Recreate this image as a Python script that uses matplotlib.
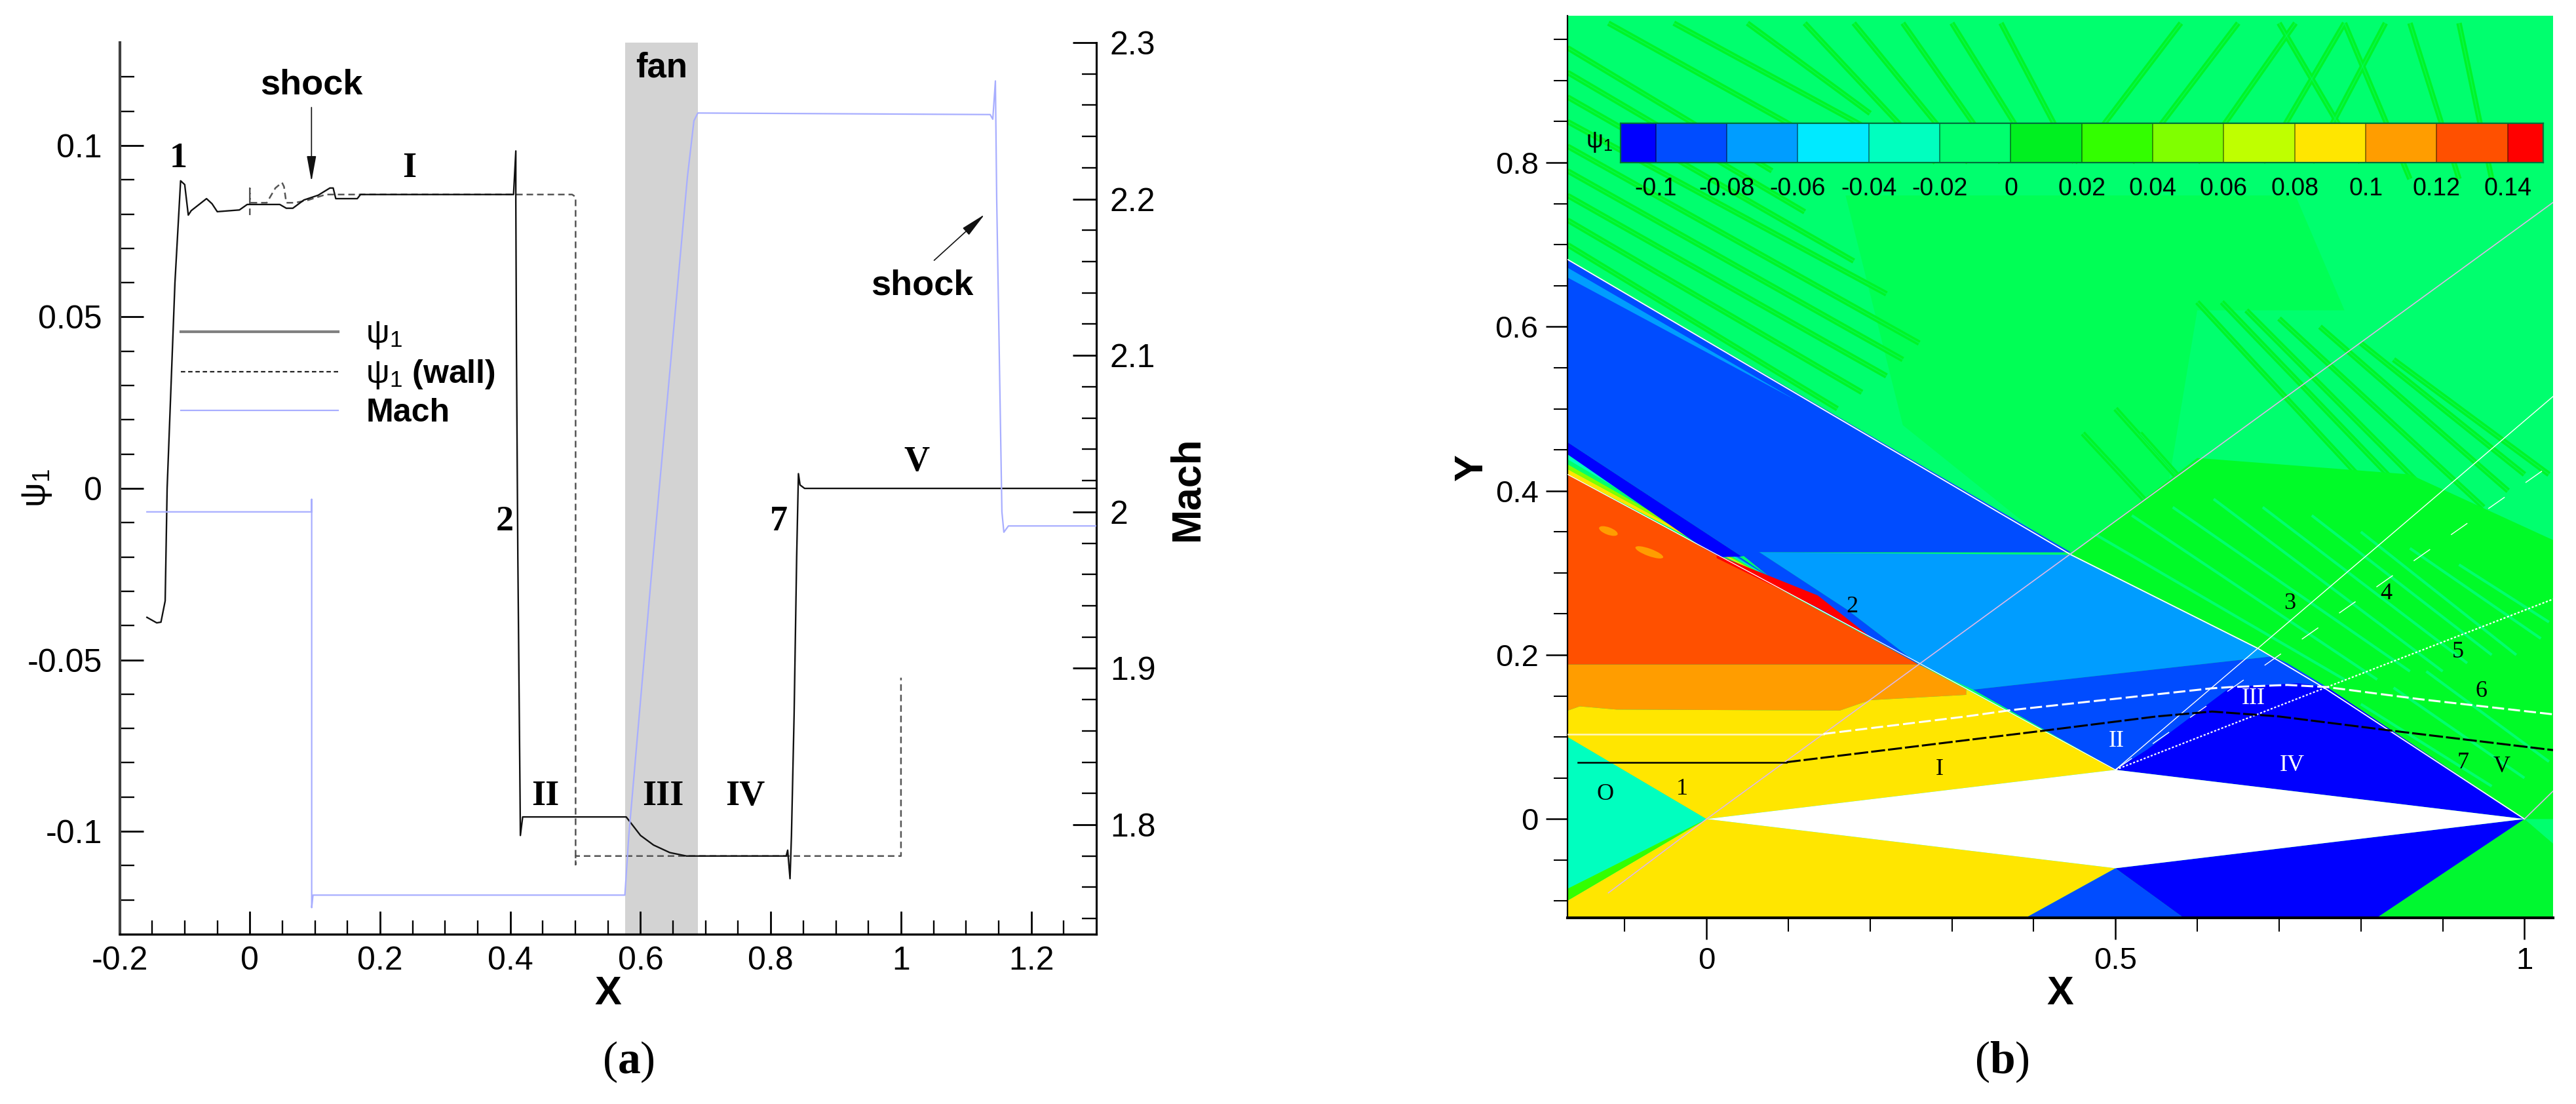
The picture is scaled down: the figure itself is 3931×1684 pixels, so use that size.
import numpy as np
import matplotlib
matplotlib.use("Agg")
import matplotlib.pyplot as plt
from matplotlib.collections import LineCollection
from matplotlib.colors import ListedColormap, BoundaryNorm
from matplotlib.lines import Line2D

plt.rcParams["font.family"] = "Liberation Sans"
plt.rcParams["mathtext.fontset"] = "custom"
plt.rcParams["mathtext.rm"] = "Liberation Serif"
plt.rcParams["mathtext.bf"] = "Liberation Serif:bold"
plt.rcParams["mathtext.sf"] = "Liberation Sans"
plt.rcParams["mathtext.it"] = "Liberation Serif:italic"

W, H = 3931, 1684

# panel (a)
psi_x = [-0.158, -0.143, -0.1365, -0.13, -0.127, -0.115, -0.1063, -0.1, -0.0945, -0.09, -0.0665, -0.058, -0.05, -0.016,
         -0.004, 0.046, 0.056, 0.066, 0.083, 0.105, 0.123, 0.128, 0.132, 0.165, 0.17, 0.405, 0.4085, 0.4085, 0.4095,
         0.4116, 0.415, 0.4155, 0.419, 0.578, 0.60, 0.62, 0.645, 0.6706, 0.8237, 0.826, 0.8296, 0.8318, 0.8359, 0.8398,
         0.8425, 0.845, 0.852, 1.3]
psi_y = [-0.0376, -0.0392, -0.039, -0.0328, 0.0, 0.06, 0.0897, 0.0886, 0.0797, 0.081, 0.0845, 0.083, 0.0807, 0.0812,
         0.0828, 0.0828, 0.0817, 0.0817, 0.0841, 0.0855, 0.0876, 0.0876, 0.0845, 0.0845, 0.0857, 0.0857, 0.0984, 0.084,
         0.04, -0.02, -0.09, -0.1012, -0.0958, -0.0958, -0.1012, -0.104, -0.1062, -0.1072, -0.1072, -0.1055, -0.1138,
         -0.1012, -0.0658, -0.02, 0.0043, 0.001, 0.0, 0.0]

wall_x = [0.0, 0.0, 0.0, 0.026, 0.0393, 0.0494, 0.0525, 0.056, 0.0695, 0.09, 0.1165, 0.495, 0.5003, 0.5003, 0.5003, 1.0,
          1.0]
wall_y = [0.0797, 0.0875, 0.0833, 0.0833, 0.0876, 0.0892, 0.088, 0.0833, 0.0833, 0.0841, 0.0857, 0.0857, 0.085, -0.1097,
          -0.1072, -0.1072, -0.0552]

mach_x = [-0.158, 0.095, 0.095, 0.095, 0.097, 0.576, 0.582, 0.616, 0.672, 0.682, 0.688, 1.137, 1.141, 1.145, 1.147, 1.155,
          1.158, 1.165, 1.3]
mach_y = [2.0, 2.0, 2.008, 1.747, 1.755, 1.755, 1.793, 1.956, 2.214, 2.25, 2.255, 2.254, 2.251, 2.2755, 2.2, 2.0, 1.987,
          1.991, 1.991]

fan_span = [0.576, 0.688]

x_major = [-0.2, 0, 0.2, 0.4, 0.6, 0.8, 1, 1.2]
x_major_labels = ["-0.2", "0", "0.2", "0.4", "0.6", "0.8", "1", "1.2"]
psi_major = [-0.1, -0.05, 0, 0.05, 0.1]
psi_major_labels = ["-0.1", "-0.05", "0", "0.05", "0.1"]
mach_major = [1.8, 1.9, 2, 2.1, 2.2, 2.3]
mach_major_labels = ["1.8", "1.9", "2", "2.1", "2.2", "2.3"]

bold_labels_a = [("1", -0.110, 0.0962), ("I", 0.245, 0.0933), ("2", 0.392, -0.0098), ("II", 0.454, -0.0899),
                 ("III", 0.635, -0.0899), ("IV", 0.761, -0.0899), ("7", 0.812, -0.0098), ("V", 1.024, 0.0076)]

# panel (b), contour regions in X, Y
levels = [-0.11, -0.1, -0.08, -0.06, -0.04, -0.02, 0, 0.02, 0.04, 0.06, 0.08, 0.1, 0.12, 0.14, 0.15]
level_ticks = [-0.1, -0.08, -0.06, -0.04, -0.02, 0, 0.02, 0.04, 0.06, 0.08, 0.1, 0.12, 0.14]
level_labels = ["-0.1", "-0.08", "-0.06", "-0.04", "-0.02", "0", "0.02", "0.04", "0.06", "0.08", "0.1", "0.12", "0.14"]
level_colors = ["#0000ff", "#004cff", "#009dff", "#00eaff", "#00ffbf", "#00ff6e", "#00f020", "#33ff00", "#80ff00",
                "#bfff00", "#ffe600", "#ff9d00", "#ff5000", "#ff0000"]

airfoil = [(0, 0), (0.5, 0.06), (1, 0), (0.5, -0.06)]
region_o = [(-0.17, 0.10), (0, 0), (-0.17, -0.0995)]
lower_edge_band = [(0, 0), (-0.17, -0.0995), (-0.17, -0.085)]
region_yellow_top = [(-0.17, 0.10), (0, 0), (0.5, 0.06), (0.3175, 0.158), (0.3175, 0.1513), (0.2, 0.1449), (0.163, 0.1322),
                     (-0.11, 0.1334), (-0.155, 0.1373), (-0.17, 0.132)]
region_orange = [(-0.17, 0.132), (-0.155, 0.1373), (-0.11, 0.1334), (0.163, 0.1322), (0.2, 0.1449), (0.3175, 0.1513),
                 (0.3175, 0.158), (0.26, 0.1883), (-0.17, 0.1883)]
region_red = [(-0.17, 0.1883), (0.26, 0.1883), (-0.17, 0.42)]
red_edge = [(0.0124, 0.322), (0.136, 0.2725), (0.2, 0.222), (0.136, 0.2575), (0.0124, 0.318)]
shock_bands = [(0.42, 0.4265, "#ffe600"), (0.4265, 0.4325, "#80ff00"), (0.4325, 0.4385, "#00ff6e"),
               (0.4385, 0.4445, "#00ffbf"), (0.4445, 0.4505, "#009dff"), (0.4505, 0.4592, "#004cff")]
shock_band_end = (0.1, 0.28)
dark_strip = [(-0.17, 0.4592), (0.043, 0.32), (0.0124, 0.319), (-0.17, 0.4445)]
region_blue_upper = [(-0.17, 0.682), (0.4457, 0.325), (0.065, 0.325), (0.043, 0.32), (-0.17, 0.4592)]
region_light_blue = [(0.065, 0.325), (0.4457, 0.322), (0.674, 0.208), (0.689, 0.198), (0.326, 0.1577), (0.26, 0.188),
                     (0.1716, 0.2554)]
strip_blue = [(0.04, 0.325), (0.065, 0.325), (0.1716, 0.2554), (0.26, 0.188), (0.1, 0.2765)]
region_ii = [(0.5, 0.06), (0.326, 0.1577), (0.689, 0.198), (0.6733, 0.2073), (0.71, 0.19), (0.7586, 0.1608)]
region_iv = [(0.5, 0.06), (1, 0), (0.7586, 0.1608), (0.724, 0.1655), (0.6408, 0.1608), (0.539, 0.0848)]
region_yellow_low = [(0, 0), (0.5, -0.06), (0.391, -0.12), (-0.17, -0.12), (-0.17, -0.0995)]
region_blue_low = [(0.5, -0.06), (0.391, -0.12), (0.5828, -0.12)]
region_dark_low = [(0.5, -0.06), (1, 0), (0.82, -0.12), (0.5828, -0.12)]
region_green_low = [(1, 0), (1.035, -0.03), (1.035, -0.12), (0.82, -0.12)]
fine_texture = [(0.17, 0.76), (0.72, 0.76), (0.78, 0.62), (0.60, 0.62), (0.56, 0.38), (0.44, 0.32), (0.24, 0.48)]
fan_zone = [(0.4457, 0.322), (0.60, 0.44), (0.86, 0.42), (1.035, 0.34), (1.035, 0.0), (1, 0), (0.755, 0.16), (0.674, 0.208)]
orange_spots = [(-0.12, 0.351, 0.024, 0.009), (-0.07, 0.325, 0.036, 0.009)]

shock_front = [(-0.17, 0.682), (0.4457, 0.322), (0.674, 0.208), (0.755, 0.16), (1, 0)]
shock_rear = [(-0.17, 0.42), (0.26, 0.19), (0.5, 0.06)]
teal_edge = [(-0.17, 0.672), (0.11, 0.51), (-0.17, 0.660)]
pale_wave = [(-0.12, -0.09), (0, 0), (1.035, 0.7515)]
tail_wave = [(1, 0), (1.035, 0.034)]
wave_3 = [(0.5, 0.06), (0.674, 0.208), (1.035, 0.515)]
wave_4 = [(0.5, 0.06), (0.8995, 0.339), (1.035, 0.4335)]
wave_5 = [(0.5, 0.06), (0.7586, 0.1608), (1.035, 0.268)]
stream_white_x = [-0.17, 0.143, 0.3173, 0.3728, 0.6177, 0.6408, 0.7101, 0.7586, 0.8718, 1.035]
stream_white_y = [0.1037, 0.1037, 0.125, 0.1328, 0.1593, 0.1608, 0.1634, 0.1608, 0.1461, 0.1276]
stream_black_x = [-0.157, 0.098, 0.415, 0.55, 0.618, 0.70, 0.835, 1.035]
stream_black_y = [0.0693, 0.0693, 0.108, 0.125, 0.131, 0.125, 0.108, 0.084]

ripples = [(-0.17, 0.70, 0.16, 0.50), (-0.17, 0.73, 0.19, 0.52), (-0.17, 0.76, 0.22, 0.54), (-0.17, 0.79, 0.24, 0.56),
           (-0.17, 0.82, 0.26, 0.58), (-0.17, 0.85, 0.22, 0.64), (-0.17, 0.88, 0.18, 0.68), (-0.17, 0.91, 0.12, 0.74),
           (-0.17, 0.94, 0.08, 0.79), (-0.12, 0.97, 0.15, 0.82), (-0.04, 0.97, 0.2, 0.84), (0.05, 0.97, 0.2, 0.86),
           (0.12, 0.97, 0.28, 0.80), (0.18, 0.97, 0.32, 0.80), (0.24, 0.97, 0.36, 0.80), (0.30, 0.97, 0.40, 0.81),
           (0.36, 0.97, 0.45, 0.80), (0.45, 0.80, 0.58, 0.97), (0.52, 0.80, 0.65, 0.97), (0.60, 0.80, 0.72, 0.97),
           (0.68, 0.80, 0.78, 0.97), (0.74, 0.80, 0.83, 0.97), (0.70, 0.97, 0.80, 0.80), (0.78, 0.97, 0.86, 0.78),
           (0.86, 0.97, 0.92, 0.78), (0.92, 0.97, 0.96, 0.78), (0.60, 0.63, 0.87, 0.34), (0.63, 0.63, 0.90, 0.35),
           (0.66, 0.62, 0.92, 0.36), (0.70, 0.61, 0.95, 0.38), (0.75, 0.60, 0.98, 0.40), (0.80, 0.58, 1.0, 0.42),
           (0.84, 0.56, 1.03, 0.42), (0.50, 0.50, 0.68, 0.30), (0.53, 0.47, 0.70, 0.28), (0.46, 0.47, 0.60, 0.32)]
fan_ripples = [(0.47, 0.35, 0.78, 0.17), (0.52, 0.37, 0.82, 0.17), (0.57, 0.38, 0.86, 0.18), (0.62, 0.39, 0.90, 0.18),
               (0.68, 0.38, 0.93, 0.19), (0.74, 0.37, 0.96, 0.20), (0.80, 0.35, 0.99, 0.20), (0.86, 0.33, 1.02, 0.22),
               (0.92, 0.31, 1.03, 0.24), (0.80, 0.14, 0.96, 0.04), (0.84, 0.16, 1.0, 0.05), (0.88, 0.18, 1.03, 0.07)]

black_labels_b = [("O", -0.124, 0.0302), ("1", -0.030, 0.0366), ("2", 0.178, 0.2584), ("3", 0.713, 0.2627),
                  ("4", 0.831, 0.2745), ("5", 0.919, 0.2036), ("6", 0.947, 0.1555), ("7", 0.925, 0.0684),
                  ("V", 0.972, 0.0641), ("I", 0.285, 0.0608)]
white_labels_b = [("II", 0.501, 0.0952), ("III", 0.669, 0.1470), ("IV", 0.716, 0.0650)]

y_major_b = [0, 0.2, 0.4, 0.6, 0.8]
y_major_b_labels = ["0", "0.2", "0.4", "0.6", "0.8"]
x_major_b = [0, 0.5, 1]
x_major_b_labels = ["0", "0.5", "1"]


def axes_box(left, top, right, bottom):
    return [left / W, 1 - bottom / H, (right - left) / W, (bottom - top) / H]


def fig_text(x, y, s, **kw):
    kw.setdefault("ha", "center")
    kw.setdefault("va", "center")
    fig.text(x / W, 1 - y / H, s, **kw)


fig = plt.figure(figsize=(W / 100, H / 100), dpi=100, facecolor="white")

# ---- (a) ----
ax = fig.add_axes(axes_box(182.5, 65, 1673, 1425))
ax.axvspan(fan_span[0], fan_span[1], color="#d3d3d3", lw=0, zorder=0)
ax.plot(wall_x, wall_y, color="#555555", lw=1.8, ls=(0, (4, 2.4)), zorder=2)
ax.plot(psi_x, psi_y, color="#111111", lw=1.7, zorder=3)
ax.set_xlim(-0.2, 1.3)
ax.set_ylim(-0.13, 0.13)
ax.set_xticks(x_major)
ax.set_xticklabels(x_major_labels)
ax.set_xticks(np.arange(-0.15, 1.3, 0.05), minor=True)
ax.set_yticks(psi_major)
ax.set_yticklabels(psi_major_labels)
ax.set_yticks(np.arange(-0.12, 0.13, 0.01), minor=True)
ax.tick_params(axis="x", which="major", direction="in", length=25, width=2, labelsize=36, pad=13)
ax.tick_params(axis="x", which="minor", direction="in", length=15, width=1.7)
ax.tick_params(axis="y", which="major", direction="in", length=26, width=2, labelsize=36, pad=19)
ax.tick_params(axis="y", which="minor", direction="in", length=16, width=1.7)
ax.spines["top"].set_visible(False)
ax.spines["right"].set_visible(False)
ax.spines["left"].set_linewidth(3)
ax.spines["left"].set_color("#404040")
ax.spines["bottom"].set_linewidth(2.4)

ax_mach = ax.twinx()
ax_mach.patch.set_visible(False)
ax_mach.plot(mach_x, mach_y, color="#a8aeff", lw=1.6, zorder=4)
ax_mach.set_ylim(1.73, 2.3)
ax_mach.set_yticks(mach_major)
ax_mach.set_yticklabels(mach_major_labels)
ax_mach.set_yticks(np.arange(1.74, 2.3, 0.02), minor=True)
ax_mach.tick_params(axis="y", which="major", direction="in", length=26, width=2, labelsize=36, pad=15)
ax_mach.tick_params(axis="y", which="minor", direction="in", length=16, width=1.7)
for name in ["top", "left", "bottom"]:
    ax_mach.spines[name].set_visible(False)
ax_mach.spines["right"].set_linewidth(2.2)

handles = [Line2D([], [], color="#808080", lw=3),
           Line2D([], [], color="#222222", lw=1.6, ls=(0, (3, 2))),
           Line2D([], [], color="#a8aeff", lw=1.6)]
names = [r"$\mathsf{ψ}_{\mathsf{1}}$", r"$\mathsf{ψ}_{\mathsf{1}}$ (wall)", "Mach"]
ax.legend(handles, names, loc="center left", bbox_to_anchor=(276 / W, 1 - 570 / H), bbox_transform=fig.transFigure,
          frameon=False, prop={"size": 36, "weight": "bold"}, handlelength=4.8, handletextpad=0.85, labelspacing=0.22,
          borderpad=0, borderaxespad=0)

fig_text(57, 745, r"$\mathsf{ψ}_{\mathsf{1}}$", fontsize=38, rotation=90)
fig_text(928, 1517, "X", fontsize=44, fontweight="bold")
fig_text(1812, 745, "Mach", fontsize=45, fontweight="bold", rotation=90)
ax.text(0.0947, 0.1176, "shock", fontsize=39, fontweight="bold", ha="center", va="center", zorder=6)
ax.text(1.033, 0.0591, "shock", fontsize=39, fontweight="bold", ha="center", va="center", zorder=6)
ax.text(0.632, 0.1227, "fan", fontsize=38, fontweight="bold", ha="center", va="center", zorder=6)
arrow = dict(arrowstyle="-|>,head_length=1.2,head_width=0.22", color="#111111", lw=1.2, mutation_scale=20, shrinkA=0,
             shrinkB=0)
ax.annotate("", xy=(0.0947, 0.0895), xytext=(0.0947, 0.1111), arrowprops=arrow, zorder=6)
ax.annotate("", xy=(1.1285, 0.0799), xytext=(1.0509, 0.0665), arrowprops=arrow, zorder=6)
for s, lx, ly in bold_labels_a:
    ax.text(lx, ly, s, fontsize=39, family="Liberation Serif", fontweight="bold", ha="center", va="center", zorder=6)
fig_text(959, 1620, r"($\mathbf{a}$)", fontsize=50, family="Liberation Serif")

# ---- (b) ----
bx = fig.add_axes(axes_box(2392, 24, 3896, 1399.5))
bx.set_xlim(-0.17, 1.035)
bx.set_ylim(-0.12, 0.979)
bx.set_facecolor(level_colors[5])


def region(points, color, z=1):
    xs, ys = zip(*points)
    bx.fill(xs, ys, color=color, lw=0, zorder=z)


def segments(rows):
    return [[(r[0], r[1]), (r[2], r[3])] for r in rows]


region(fine_texture, "#00ff55", 1)
bx.add_collection(LineCollection(segments(ripples), colors="#00f428", linewidths=6, zorder=1.2, capstyle="butt"))
bx.add_collection(LineCollection(segments(ripples), colors=level_colors[5], linewidths=1.2, zorder=1.3, alpha=0.5))
region(fan_zone, "#00fb28", 1.4)
bx.add_collection(LineCollection(segments(fan_ripples), colors="#00ff6e", linewidths=3, zorder=1.5, capstyle="butt"))
region(region_green_low, "#00f830", 1.6)

region(region_o, level_colors[4], 2)
region(lower_edge_band, "#33ff00", 2.1)
region(region_yellow_top, level_colors[10], 2)
region(region_orange, level_colors[11], 2)
region(region_red, level_colors[12], 2)
for y0, y1, c in shock_bands:
    region([(-0.17, y0), (-0.17, y1), shock_band_end], c, 1.8)
region(red_edge, level_colors[13], 2.2)
region(dark_strip, level_colors[0], 1.9)
region(region_blue_upper, level_colors[1], 1.7)
region(region_light_blue, level_colors[2], 2)
region(strip_blue, level_colors[1], 2.1)
region(region_ii, level_colors[1], 2)
region(region_iv, level_colors[0], 2.1)
region(region_yellow_low, level_colors[10], 2)
region(region_blue_low, level_colors[1], 2)
region(region_dark_low, level_colors[0], 2)
region(airfoil, "white", 3)
for sx, sy, sw, sh in orange_spots:
    bx.add_patch(matplotlib.patches.Ellipse((sx, sy), sw, sh, angle=-20, color=level_colors[11], lw=0, zorder=2.3))
region(teal_edge, level_colors[2], 2)


def polyline(points, **kw):
    xs, ys = zip(*points)
    bx.plot(xs, ys, **kw)


polyline(shock_front, color="white", lw=1.3, zorder=4)
polyline(shock_rear, color="white", lw=0.9, zorder=4)
polyline(pale_wave, color="#ddb8e8", lw=1.2, zorder=4)
polyline(tail_wave, color="#ddb8e8", lw=1.2, zorder=4)
polyline(wave_3, color="white", lw=1.0, zorder=4)
polyline(wave_4, color="white", lw=1.0, ls=(0, (22, 28)), zorder=4)
polyline(wave_5, color="white", lw=1.6, ls=(0, (1.4, 1.2)), zorder=4)
bx.plot(stream_white_x[:2], stream_white_y[:2], color="#fff6c0", lw=1.8, zorder=4)
bx.plot(stream_white_x[1:], stream_white_y[1:], color="white", lw=2.2, ls=(0, (6, 2)), zorder=4)
bx.plot(stream_black_x[:2], stream_black_y[:2], color="black", lw=1.8, zorder=4)
bx.plot(stream_black_x[1:], stream_black_y[1:], color="black", lw=2.2, ls=(0, (7, 1.5)), zorder=4)

for s, lx, ly in black_labels_b:
    bx.text(lx, ly, s, fontsize=26, family="Liberation Serif", color="black", ha="center", va="center", zorder=5)
for s, lx, ly in white_labels_b:
    bx.text(lx, ly, s, fontsize=26, family="Liberation Serif", color="white", ha="center", va="center", zorder=5)

bx.set_xticks(x_major_b)
bx.set_xticklabels(x_major_b_labels)
bx.set_xticks(np.arange(-0.1, 1.03, 0.1), minor=True)
bx.set_yticks(y_major_b)
bx.set_yticklabels(y_major_b_labels)
bx.set_yticks(np.arange(-0.1, 0.96, 0.05), minor=True)
bx.tick_params(axis="both", which="major", direction="out", length=24, width=1.8, labelsize=34, pad=8)
bx.tick_params(axis="both", which="minor", direction="out", length=15, width=1.5)
bx.spines["top"].set_visible(False)
bx.spines["right"].set_visible(False)
bx.spines["left"].set_linewidth(1.6)
bx.spines["bottom"].set_linewidth(3)

fig_text(2246, 713, "Y", fontsize=44, fontweight="bold", rotation=90)
fig_text(3144, 1517, "X", fontsize=44, fontweight="bold")
fig_text(3055, 1620, r"($\mathbf{b}$)", fontsize=50, family="Liberation Serif")

# colour legend of panel (b)
cax = fig.add_axes(axes_box(2472.6, 188, 3881, 248), zorder=5)
cmap = ListedColormap(level_colors)
norm = BoundaryNorm(levels, cmap.N)
mids = [(levels[i] + levels[i + 1]) / 2 for i in range(len(level_colors))]
cax.pcolormesh(levels, [0, 1], [mids], cmap=cmap, norm=norm)
cax.vlines(level_ticks, 0, 1, color="black", lw=1.1, alpha=0.55)
cax.set_yticks([])
cax.set_xticks(level_ticks)
cax.set_xticklabels(level_labels)
cax.tick_params(axis="x", length=0, labelsize=27, pad=16)
for sp in cax.spines.values():
    sp.set_linewidth(1.6)
    sp.set_color("#00703a")
fig_text(2440, 217, r"$\mathsf{ψ}_{\mathsf{1}}$", fontsize=26)

fig.savefig("out.png", dpi=100)
